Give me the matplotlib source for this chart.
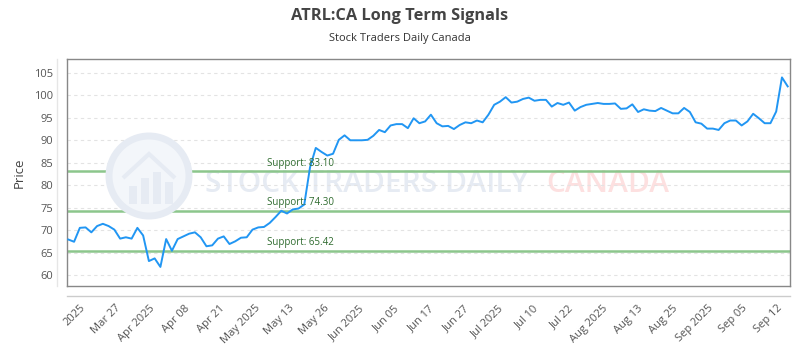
import matplotlib
matplotlib.use("Agg")
import matplotlib.pyplot as plt
from matplotlib.lines import Line2D
from matplotlib.patches import Circle, Rectangle, Polygon
import numpy as np

# closing prices (one per trading day)
prices = [67.9, 67.4, 70.5, 70.6, 69.5, 70.9, 71.4, 70.9, 70.1, 68.1,
          68.4, 68.1, 70.5, 68.8, 63.1, 63.7, 61.8, 68.0, 65.4, 68.0,
          68.6, 69.2, 69.5, 68.4, 66.4, 66.6, 68.1, 68.6, 66.9, 67.5,
          68.3, 68.4, 70.1, 70.6, 70.7, 71.6, 72.9, 74.3, 73.7, 74.6,
          74.8, 75.7, 84.0, 88.3, 87.4, 86.6, 87.0, 90.1, 91.1, 90.0,
          90.0, 90.0, 90.1, 91.0, 92.3, 91.8, 93.3, 93.6, 93.6, 92.7,
          94.9, 93.8, 94.2, 95.7, 93.8, 93.1, 93.2, 92.5, 93.4, 94.0,
          93.8, 94.4, 94.0, 95.7, 97.9, 98.6, 99.6, 98.4, 98.6, 99.2,
          99.5, 98.8, 99.0, 99.0, 97.5, 98.3, 97.9, 98.4, 96.6, 97.4,
          97.9, 98.1, 98.3, 98.1, 98.1, 98.2, 97.0, 97.1, 98.0, 96.3,
          96.9, 96.6, 96.5, 97.2, 96.6, 96.0, 96.0, 97.2, 96.3, 94.0,
          93.7, 92.6, 92.6, 92.3, 93.8, 94.4, 94.4, 93.3, 94.2, 95.9,
          94.9, 93.8, 93.8, 96.4, 104.0, 102.0]

supports = [83.10, 74.30, 65.42]

tick_labels = ["2025", "Mar 27", "Apr 2025", "Apr 08", "Apr 21", "May 2025",
               "May 13", "May 26", "Jun 2025", "Jun 05", "Jun 17", "Jun 27",
               "Jul 2025", "Jul 10", "Jul 22", "Aug 2025", "Aug 13", "Aug 25",
               "Sep 2025", "Sep 05", "Sep 12"]

yticks = [60, 65, 70, 75, 80, 85, 90, 95, 100, 105]

plt.rcParams['font.family'] = ['Open Sans', 'DejaVu Sans']

fig = plt.figure(figsize=(8, 3.5), dpi=100)
ax = fig.add_axes([67/800, 1-286/350, 723/800, 227/350])

x = np.arange(len(prices))

# watermark logo (drawn in inches so it stays round)
tr = fig.dpi_scale_trans
cx, cy = 1.49, 1.74
fig.patches.append(Circle((cx, cy), 0.40, transform=tr, facecolor='#f3f6fa',
                          edgecolor='#e6ebf3', lw=5, zorder=0.5))
for bx, bh in [(-0.20, 0.18), (-0.08, 0.26), (0.04, 0.32), (0.16, 0.22)]:
    fig.patches.append(Rectangle((cx + bx, cy - 0.28), 0.08, bh, transform=tr,
                                 facecolor='#e6ebf3', edgecolor='none', zorder=0.6))
fig.patches.append(Polygon([(cx - 0.26, cy - 0.02), (cx, cy + 0.22), (cx + 0.26, cy - 0.02)],
                           closed=False, fill=False, transform=tr, edgecolor='#e6ebf3',
                           lw=3, zorder=0.6))

wm_y = 80.3
ax.text(23.7, wm_y, "STOCK TRADERS DAILY", fontsize=21.5, color='#e6ebf3',
        fontweight='semibold', ha='left', va='center', zorder=0.6)
ax.text(83.0, wm_y, "CANADA", fontsize=21.5, color='#fde0e0',
        fontweight='semibold', ha='left', va='center', zorder=0.6)

ax.plot(x, prices, color='#2196f3', lw=1.4, zorder=3)

for s in supports:
    ax.axhline(s, color='#8cc68c', lw=1.8, zorder=2)
    ax.text(34.5, s + 0.6, "Support: %.2f" % s, color='#2e6b2e', fontsize=7,
            ha='left', va='bottom', zorder=4)

ax.set_xlim(-0.23, 125.4)
ax.set_ylim(57.55, 108.1)
ax.set_yticks(yticks)
ax.set_xticks(np.linspace(3.4, 124.5, len(tick_labels)))
ax.set_xticklabels(tick_labels, rotation=45, ha='right')
ax.tick_params(axis='both', length=0, labelsize=8, colors='#555555')
ax.tick_params(axis='x', pad=12)
ax.tick_params(axis='y', pad=10)
ax.grid(axis='y', color='#e3e3e3', ls=(0, (3, 3)), lw=0.8)
ax.set_facecolor('none')
for sp in ax.spines.values():
    sp.set_color('#888888')
    sp.set_linewidth(1)
ax.set_ylabel("Price", fontsize=9.5, color='#444444', labelpad=6)

# offset axis lines
fig.add_artist(Line2D([67/800, 790/800], [1-296/350]*2, color='#cccccc', lw=1))
fig.add_artist(Line2D([57/800, 57/800], [1-286/350, 1-59/350], color='#e6e6e6', lw=1))

fig.text(0.5, 1-16/350, "ATRL:CA Long Term Signals", ha='center', va='center',
         fontsize=11.8, fontweight='bold', color='#444444')
fig.text(0.5, 1-39/350, "Stock Traders Daily Canada", ha='center', va='center',
         fontsize=8, color='#333333')

fig.savefig("out.png", dpi=100)
